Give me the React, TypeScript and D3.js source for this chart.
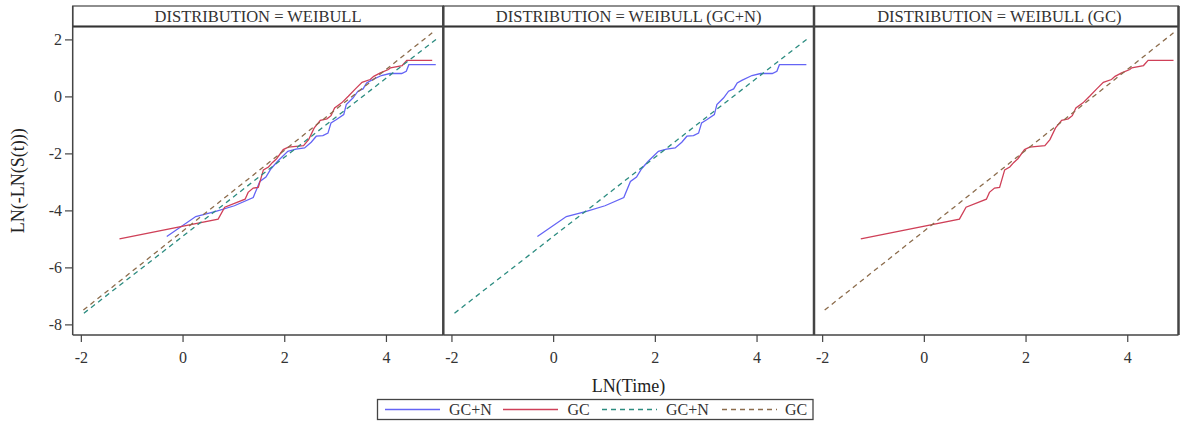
import React from "react";
import * as d3 from "d3";

// ---- data ----
const panelTitles = ["DISTRIBUTION = WEIBULL", "DISTRIBUTION = WEIBULL (GC+N)", "DISTRIBUTION = WEIBULL (GC)"];
const xTicks = [-2, 0, 2, 4];
const yTicks = [2, 0, -2, -4, -6, -8];

// GC+N empirical ln(-ln S(t)) vs ln(time)
const gcnX = [-0.32, 0.25, 0.645, 1.01, 1.38, 1.51, 1.63, 1.73, 1.86, 2.06, 2.22, 2.39, 2.52, 2.62, 2.75, 2.85, 2.91, 3.01, 3.16, 3.21, 3.34, 3.44, 3.54, 3.61, 3.70, 3.90, 4.07, 4.30, 4.39, 4.44, 4.97];
const gcnY = [-4.90, -4.20, -4.02, -3.82, -3.53, -2.97, -2.81, -2.52, -2.26, -1.91, -1.83, -1.79, -1.59, -1.38, -1.36, -1.27, -0.91, -0.80, -0.62, -0.27, -0.04, 0.20, 0.28, 0.49, 0.58, 0.75, 0.82, 0.82, 0.90, 1.13, 1.13];

// GC empirical
const gcX = [-1.25, 0.69, 0.82, 1.22, 1.28, 1.38, 1.48, 1.58, 1.68, 1.76, 1.84, 1.97, 2.07, 2.37, 2.47, 2.58, 2.70, 2.83, 2.91, 2.98, 3.12, 3.25, 3.39, 3.52, 3.68, 3.75, 3.88, 4.04, 4.08, 4.31, 4.40, 4.90];
const gcY = [-4.98, -4.29, -3.87, -3.59, -3.35, -3.20, -3.18, -2.56, -2.46, -2.30, -2.17, -1.85, -1.76, -1.71, -1.50, -1.09, -0.82, -0.77, -0.66, -0.39, -0.21, 0.02, 0.28, 0.51, 0.61, 0.72, 0.84, 0.96, 1.02, 1.10, 1.28, 1.28];

// fitted Weibull lines (endpoints)
const fitGcnX = [-1.95, 4.99];
const fitGcnY = [-7.59, 2.04];
const fitGcX = [-1.96, 4.90];
const fitGcY = [-7.48, 2.25];

const legendLabels = ["GC+N", "GC", "GC+N", "GC"];

// ---- styles ----
const BLUE = "#6464f5";
const RED = "#cf4058";
const TEAL = "#2c8c80";
const BROWN = "#8c6c4c";
const FONT = "'Liberation Serif', 'Times New Roman', serif";

const W = 1182, H = 421;
const panelLefts = [72.7, 443.3, 814];
const panelW = 370.7;
const lastRight = 1178.5;
const headerTop = 6, headerBottom = 26.5, plotBottom = 335;

type S = { xs: number[]; ys: number[]; color: string; dash?: string };

export default function App() {
  const y = d3.scaleLinear().domain([-8.355, 2.47]).range([plotBottom, headerBottom]);
  const zip = (xs: number[], ys: number[]) => xs.map((v, i) => [v, ys[i]] as [number, number]);
  const blue: S = { xs: gcnX, ys: gcnY, color: BLUE };
  const red: S = { xs: gcX, ys: gcY, color: RED };
  const teal: S = { xs: fitGcnX, ys: fitGcnY, color: TEAL, dash: "5,4" };
  const brown: S = { xs: fitGcX, ys: fitGcY, color: BROWN, dash: "5,4" };
  const panelSeries: S[][] = [[blue, red, teal, brown], [blue, teal], [red, brown]];

  return (
    <svg width={W} height={H} style={{ position: "absolute", left: 0, top: 0, background: "#fff" }} fontFamily={FONT}>
      <defs>
        {panelLefts.map((l, i) => (
          <clipPath id={`clip${i}`} key={i}>
            <rect x={l} y={headerBottom} width={panelW} height={plotBottom - headerBottom} />
          </clipPath>
        ))}
      </defs>
      {panelLefts.map((l, pi) => {
        const x = d3.scaleLinear().domain([-2.17, 5.12]).range([l, l + panelW]);
        const line = d3.line<[number, number]>().x(d => x(d[0])).y(d => y(d[1]));
        const r = pi === 2 ? lastRight : l + panelW;
        return (
          <g key={pi}>
            <g clipPath={`url(#clip${pi})`}>
              {panelSeries[pi].map((s, si) => (
                <path key={si} d={line(zip(s.xs, s.ys)) || ""} fill="none" stroke={s.color} strokeWidth={1.3} strokeDasharray={s.dash} />
              ))}
            </g>
            {/* header */}
            <rect x={l} y={headerTop} width={r - l} height={headerBottom - headerTop} fill="none" stroke="#444" strokeWidth={1.2} />
            <line x1={l} x2={r} y1={headerBottom} y2={headerBottom} stroke="#333" strokeWidth={2.2} />
            <text x={l + panelW / 2} y={headerTop + 15.5} textAnchor="middle" fontSize={16.5} fill="#333">{panelTitles[pi]}</text>
            {/* frame */}
            <line x1={l} x2={l} y1={headerTop} y2={plotBottom} stroke="#444" strokeWidth={pi === 0 ? 1.5 : 2.5} />
            <line x1={l} x2={r} y1={plotBottom} y2={plotBottom} stroke="#444" strokeWidth={1.5} />
            {/* x ticks */}
            {xTicks.map(t => (
              <g key={t}>
                <line x1={x(t)} x2={x(t)} y1={plotBottom} y2={plotBottom + 7} stroke="#444" strokeWidth={1.2} />
                <text x={x(t)} y={plotBottom + 28} textAnchor="middle" fontSize={16} fill="#333">{t}</text>
              </g>
            ))}
          </g>
        );
      })}
      <line x1={lastRight} x2={lastRight} y1={headerTop} y2={plotBottom} stroke="#444" strokeWidth={2.5} />
      {/* y axis */}
      {yTicks.map(t => (
        <g key={t}>
          <line x1={65} x2={panelLefts[0]} y1={y(t)} y2={y(t)} stroke="#444" strokeWidth={1.2} />
          <text x={62} y={y(t) + 5.5} textAnchor="end" fontSize={16} fill="#333">{t}</text>
        </g>
      ))}
      <text transform={`translate(24,${(headerBottom + plotBottom) / 2}) rotate(-90)`} textAnchor="middle" fontSize={18} fill="#222">LN(-LN(S(t)))</text>
      <text x={628.5} y={392} textAnchor="middle" fontSize={18} fill="#222">LN(Time)</text>
      {/* legend */}
      <rect x={377.5} y={399.5} width={435.5} height={20} fill="#fff" stroke="#444" strokeWidth={1.3} />
      {[
        { x1: 385, c: BLUE, d: undefined, tx: 449 },
        { x1: 503, c: RED, d: undefined, tx: 567.5 },
        { x1: 602, c: TEAL, d: "5,4", tx: 666 },
        { x1: 722, c: BROWN, d: "5,4", tx: 785 },
      ].map((it, i) => (
        <g key={i}>
          <line x1={it.x1} x2={it.x1 + 55} y1={409.5} y2={409.5} stroke={it.c} strokeWidth={1.3} strokeDasharray={it.d} />
          <text x={it.tx} y={415} fontSize={16} fill="#333">{legendLabels[i]}</text>
        </g>
      ))}
    </svg>
  );
}
